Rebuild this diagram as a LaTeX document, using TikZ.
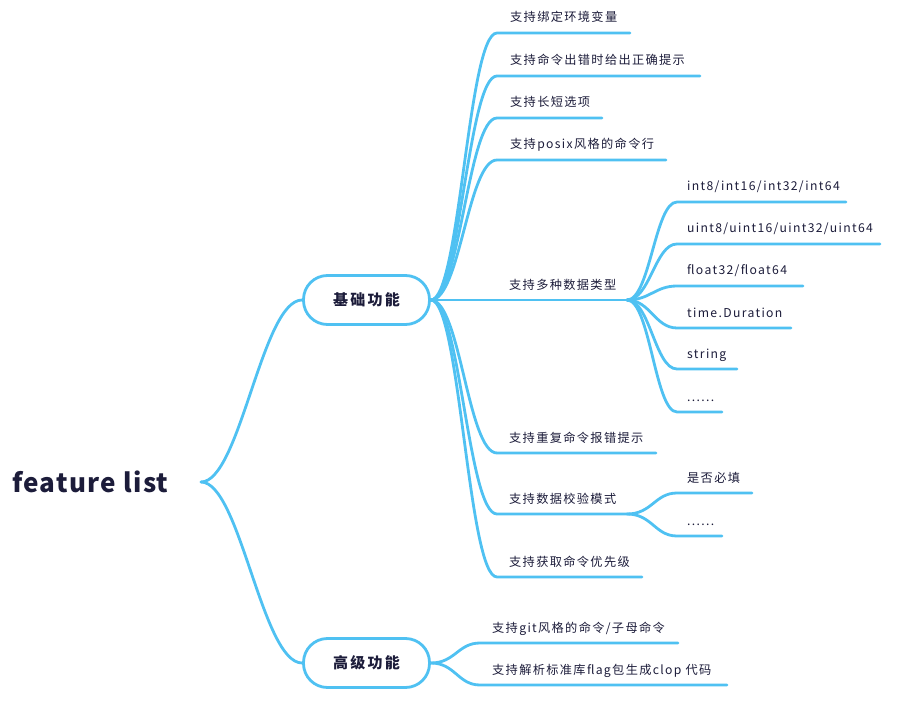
\documentclass[tikz,border=0pt]{standalone}
\usepackage{fontspec}
\setmainfont{Noto Sans CJK SC}[LetterSpace=11]
\definecolor{lineblue}{RGB}{79,193,242}
\definecolor{ink}{RGB}{28,28,58}
\begin{document}
\begin{tikzpicture}[x=1pt,y=-1pt,
  br/.style={draw=lineblue, line width=2.8pt, line cap=round},
  lbl/.style={anchor=base west, inner sep=0pt, text=ink, font=\fontsize{12.2}{14}\selectfont},
  topic/.style={draw=lineblue, line width=2.8pt, rounded corners=24pt, minimum width=126pt, minimum height=49pt, text=ink, font=\fontsize{15}{18}\selectfont\bfseries\addfontfeature{LetterSpace=15}}]
\useasboundingbox (0,0) rectangle (899,711);
% root
\node[anchor=base west, inner sep=0pt, text=ink, font=\fontsize{26}{30}\selectfont\bfseries\addfontfeature{LetterSpace=5}] (root) at (12,492) {feature list};
\coordinate (rootout) at (201,482);
\node[topic] (basic) at (366.5,300) {基础功能};
\node[topic] (adv) at (366.5,663) {高级功能};
\draw[br] (rootout) .. controls (240,482) and (262,300) .. (basic.west);
\draw[br] (rootout) .. controls (240,482) and (262,663) .. (adv.west);
% level 2 (basic)
\coordinate (s1) at (497,33);  \coordinate (e1) at (630,33);
\node[lbl] (t1) at (510,22) {支持绑定环境变量};
\draw[br] (basic.east) .. controls (460,300) and (468,33) .. (s1) -- (e1);
\coordinate (s2) at (497,76);  \coordinate (e2) at (700,76);
\node[lbl] (t2) at (510,65) {支持命令出错时给出正确提示};
\draw[br] (basic.east) .. controls (460,300) and (468,76) .. (s2) -- (e2);
\coordinate (s3) at (497,118); \coordinate (e3) at (602,118);
\node[lbl] (t3) at (510,107) {支持长短选项};
\draw[br] (basic.east) .. controls (460,300) and (468,118) .. (s3) -- (e3);
\coordinate (s4) at (497,160); \coordinate (e4) at (666,160);
\node[lbl] (t4) at (510,149) {支持posix风格的命令行};
\draw[br] (basic.east) .. controls (460,300) and (468,160) .. (s4) -- (e4);
\coordinate (s5) at (497,300); \coordinate (e5) at (627,300);
\node[lbl] (t5) at (509,289) {支持多种数据类型};
\draw[br] (basic.east) -- (s5) -- (e5);
\coordinate (s6) at (497,453); \coordinate (e6) at (656,453);
\node[lbl] (t6) at (509,442) {支持重复命令报错提示};
\draw[br] (basic.east) .. controls (460,300) and (468,453) .. (s6) -- (e6);
\coordinate (s7) at (497,514); \coordinate (e7) at (627,514);
\node[lbl] (t7) at (509,503) {支持数据校验模式};
\draw[br] (basic.east) .. controls (460,300) and (468,514) .. (s7) -- (e7);
\coordinate (s8) at (497,577); \coordinate (e8) at (642,577);
\node[lbl] (t8) at (509,566) {支持获取命令优先级};
\draw[br] (basic.east) .. controls (460,300) and (468,577) .. (s8) -- (e8);
% level 3 (data types)
\coordinate (d1s) at (677,202); \coordinate (d1e) at (846,202);
\node[lbl] (d1) at (687,191) {int8/int16/int32/int64};
\draw[br] (e5) .. controls (650,300) and (655,202) .. (d1s) -- (d1e);
\coordinate (d2s) at (677,244); \coordinate (d2e) at (880,244);
\node[lbl] (d2) at (687,233) {uint8/uint16/uint32/uint64};
\draw[br] (e5) .. controls (650,300) and (655,244) .. (d2s) -- (d2e);
\coordinate (d3s) at (677,286); \coordinate (d3e) at (803,286);
\node[lbl] (d3) at (687,275) {float32/float64};
\draw[br] (e5) .. controls (650,300) and (655,286) .. (d3s) -- (d3e);
\coordinate (d4s) at (677,328); \coordinate (d4e) at (791,328);
\node[lbl] (d4) at (687,317) {time.Duration};
\draw[br] (e5) .. controls (650,300) and (655,328) .. (d4s) -- (d4e);
\coordinate (d5s) at (677,369); \coordinate (d5e) at (737,369);
\node[lbl] (d5) at (687,358) {string};
\draw[br] (e5) .. controls (650,300) and (655,369) .. (d5s) -- (d5e);
\coordinate (d6s) at (677,412); \coordinate (d6e) at (722,412);
\node[lbl] (d6) at (687,401) {......};
\draw[br] (e5) .. controls (650,300) and (655,412) .. (d6s) -- (d6e);
% level 3 (validation)
\coordinate (v1s) at (677,493); \coordinate (v1e) at (752,493);
\node[lbl] (v1) at (687,482) {是否必填};
\draw[br] (e7) .. controls (652,514) and (655,493) .. (v1s) -- (v1e);
\coordinate (v2s) at (677,536); \coordinate (v2e) at (722,536);
\node[lbl] (v2) at (687,525) {......};
\draw[br] (e7) .. controls (652,514) and (655,536) .. (v2s) -- (v2e);
% level 2 (advanced)
\coordinate (a1s) at (480,643); \coordinate (a1e) at (678,643);
\node[lbl] (a1) at (492,632) {支持git风格的命令/子母命令};
\draw[br] (adv.east) .. controls (455,663) and (458,643) .. (a1s) -- (a1e);
\coordinate (a2s) at (480,685); \coordinate (a2e) at (727,685);
\node[lbl] (a2) at (492,674) {支持解析标准库flag包生成clop 代码};
\draw[br] (adv.east) .. controls (455,663) and (458,685) .. (a2s) -- (a2e);
\end{tikzpicture}
\end{document}
